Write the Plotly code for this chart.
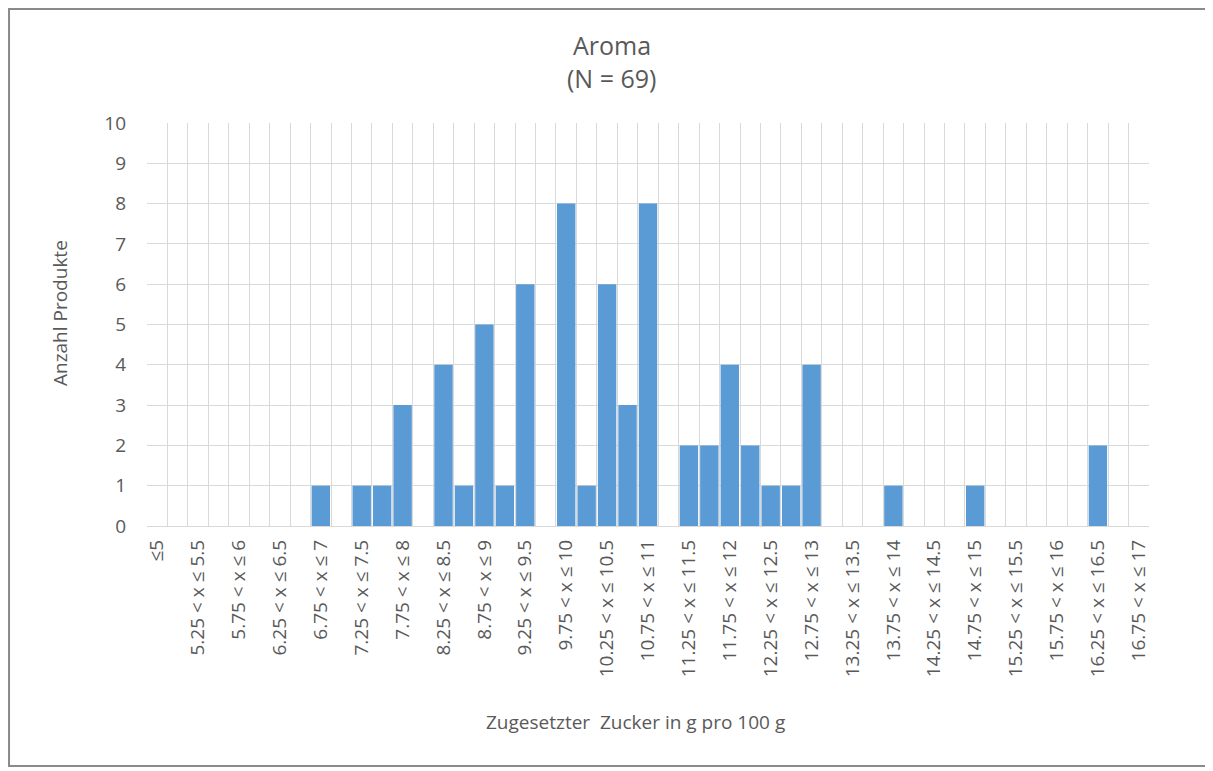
import plotly.graph_objects as go

categories = [
    "≤5", "5 < x ≤ 5.25", "5.25 < x ≤ 5.5", "5.5 < x ≤ 5.75", "5.75 < x ≤ 6",
    "6 < x ≤ 6.25", "6.25 < x ≤ 6.5", "6.5 < x ≤ 6.75", "6.75 < x ≤ 7",
    "7 < x ≤ 7.25", "7.25 < x ≤ 7.5", "7.5 < x ≤ 7.75", "7.75 < x ≤ 8",
    "8 < x ≤ 8.25", "8.25 < x ≤ 8.5", "8.5 < x ≤ 8.75", "8.75 < x ≤ 9",
    "9 < x ≤ 9.25", "9.25 < x ≤ 9.5", "9.5 < x ≤ 9.75", "9.75 < x ≤ 10",
    "10 < x ≤ 10.25", "10.25 < x ≤ 10.5", "10.5 < x ≤ 10.75", "10.75 < x ≤ 11",
    "11 < x ≤ 11.25", "11.25 < x ≤ 11.5", "11.5 < x ≤ 11.75", "11.75 < x ≤ 12",
    "12 < x ≤ 12.25", "12.25 < x ≤ 12.5", "12.5 < x ≤ 12.75", "12.75 < x ≤ 13",
    "13 < x ≤ 13.25", "13.25 < x ≤ 13.5", "13.5 < x ≤ 13.75", "13.75 < x ≤ 14",
    "14 < x ≤ 14.25", "14.25 < x ≤ 14.5", "14.5 < x ≤ 14.75", "14.75 < x ≤ 15",
    "15 < x ≤ 15.25", "15.25 < x ≤ 15.5", "15.5 < x ≤ 15.75", "15.75 < x ≤ 16",
    "16 < x ≤ 16.25", "16.25 < x ≤ 16.5", "16.5 < x ≤ 16.75", "16.75 < x ≤ 17",
]

counts = [
    0, 0, 0, 0, 0, 0, 0, 0, 1,
    0, 1, 1, 3, 0, 4, 1, 5, 1,
    6, 0, 8, 1, 6, 3, 8, 0, 2,
    2, 4, 2, 1, 1, 4, 0, 0, 0,
    1, 0, 0, 0, 1, 0, 0, 0, 0,
    0, 2, 0, 0,
]

title_line1 = "Aroma"
title_line2 = "(N = 69)"
y_title = "Anzahl Produkte"
x_title = "Zugesetzter  Zucker in g pro 100 g"
y_ticks = list(range(0, 11))

FONT = "Open Sans"
GREY = "#595959"
GRID = "#d9d9d9"

pos = list(range(len(categories)))
shown = pos[::2]

fig = go.Figure(go.Bar(
    x=pos, y=counts,
    marker=dict(color="#5b9bd5", line=dict(width=0)),
    hoverinfo="skip",
))

# page body has an 8px margin, so the figure is 8px smaller and margins shifted
fig.update_layout(
    width=1205, height=763,
    margin=dict(l=139, r=64, t=115, b=245),
    paper_bgcolor="white", plot_bgcolor="white",
    bargap=0.1,
    showlegend=False,
    font=dict(family=FONT, color=GREY, size=19),
)

fig.update_xaxes(
    range=[-0.5, len(categories) - 0.5],
    tickmode="array", tickvals=shown, ticktext=[categories[i] for i in shown],
    tickangle=-90, tickfont=dict(size=19, color=GREY),
    showgrid=False, zeroline=False, showline=False, ticks="",
    ticklabelstandoff=9,
    minor=dict(tickvals=[i - 0.5 for i in range(len(categories) + 1)],
               showgrid=True, gridcolor=GRID, gridwidth=1, ticks=""),
)
fig.update_yaxes(
    range=[0, 10], tickmode="array", tickvals=y_ticks,
    tickfont=dict(size=19, color=GREY),
    showgrid=True, gridcolor=GRID, gridwidth=1,
    zeroline=True, zerolinecolor=GRID, zerolinewidth=1,
    showline=False, ticks="", ticklabelstandoff=20,
)

ann = [
    dict(text=title_line1, x=0.464, y=1.1935, size=25),
    dict(text=title_line2, x=0.464, y=1.1117, size=25),
    dict(text=x_title, x=0.488, y=-0.486, size=19),
]
for a in ann:
    fig.add_annotation(text=a["text"], x=a["x"], y=a["y"], xref="paper", yref="paper",
                       showarrow=False, xanchor="center", yanchor="middle",
                       font=dict(family=FONT, size=a["size"], color=GREY))
fig.add_annotation(text=y_title, x=-0.0868, y=0.5285, xref="paper", yref="paper",
                   showarrow=False, textangle=-90, xanchor="center", yanchor="middle",
                   font=dict(family=FONT, size=19, color=GREY))

fig.add_shape(type="rect", xref="paper", yref="paper",
              x0=-0.1377, x1=1.0619, y0=-0.5955, y1=1.2829,
              line=dict(color="#8a8a8a", width=2), fillcolor="rgba(0,0,0,0)", layer="above")

fig.write_html("out.html")
